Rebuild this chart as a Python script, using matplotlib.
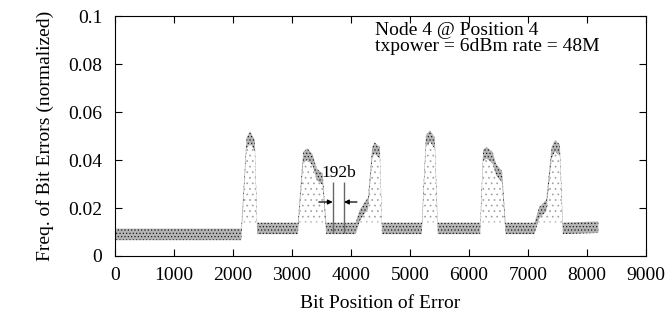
import numpy as np
import matplotlib
matplotlib.use("Agg")
import matplotlib.pyplot as plt

# profile of the error-frequency band
BIT_POS = [0, 2140, 2230, 2290, 2370, 2410, 3100, 3190, 3260, 3350, 3420,
           3520, 3580, 4080, 4150, 4230, 4290, 4360, 4400, 4490, 4525, 5200,
           5270, 5340, 5420, 5470, 6190, 6240, 6300, 6400, 6460, 6560, 6620,
           7110, 7190, 7310, 7400, 7460, 7540, 7590, 8192]
FREQ_MID = [0.009, 0.009, 0.047, 0.0495, 0.046, 0.0115, 0.0115, 0.041,
            0.0425, 0.040, 0.034, 0.032, 0.0115, 0.0115, 0.017, 0.020, 0.022,
            0.043, 0.045, 0.043, 0.0115, 0.0115, 0.048, 0.050, 0.047, 0.0115,
            0.0115, 0.042, 0.043, 0.041, 0.036, 0.033, 0.0115, 0.0115, 0.018,
            0.021, 0.043, 0.046, 0.044, 0.0115, 0.012]
FREQ_SPREAD = 0.0024   # half-width of the dense band
FLOOR = 0.014          # level under the peaks reached by the sparse points

# 192-bit marker
MARK_LEFT, MARK_RIGHT = 3690, 3882
MARK_LO, MARK_HI = 0.0096, 0.0308
ARROW_Y = 0.0225
ARROW_TAIL_L, ARROW_TAIL_R = 3455, 4100

XTICKS = np.arange(0, 9001, 1000)
YTICKS = [0, 0.02, 0.04, 0.06, 0.08, 0.1]
YTICKLABELS = ["0", "0.02", "0.04", "0.06", "0.08", "0.1"]

plt.rcParams["font.family"] = ["Liberation Serif", "DejaVu Serif"]
plt.rcParams["hatch.linewidth"] = 0.5

fig = plt.figure(figsize=(6.7, 3.22), dpi=100)
ax = fig.add_axes([0.1716, 0.205, 0.7926, 0.745])

x = np.array(BIT_POS)
mid = np.array(FREQ_MID)

# sparse points inside the peaks
ax.fill_between(x, FLOOR, mid - FREQ_SPREAD, where=mid > FLOOR + FREQ_SPREAD,
                interpolate=True, facecolor="none", edgecolor="#a0a0a0",
                hatch="...", lw=0)
# dense band
ax.fill_between(x, mid - FREQ_SPREAD, mid + FREQ_SPREAD,
                facecolor="#b4b4b4", edgecolor="#1a1a1a", hatch=".....",
                lw=0)

# 192b annotation
ax.vlines([MARK_LEFT, MARK_RIGHT], MARK_LO, MARK_HI, color="#666666", lw=1.0)
ax.annotate("", xy=(MARK_LEFT, ARROW_Y), xytext=(ARROW_TAIL_L, ARROW_Y),
            arrowprops=dict(arrowstyle="-|>", color="black", lw=0.9,
                            mutation_scale=7, shrinkA=0, shrinkB=0))
ax.annotate("", xy=(MARK_RIGHT, ARROW_Y), xytext=(ARROW_TAIL_R, ARROW_Y),
            arrowprops=dict(arrowstyle="-|>", color="black", lw=0.9,
                            mutation_scale=7, shrinkA=0, shrinkB=0))
ax.text((MARK_LEFT + MARK_RIGHT) / 2, 0.0348, "192b", ha="center",
        va="center", fontsize=12.5)

ax.text(4400, 0.0975, "Node 4 @ Position 4\ntxpower = 6dBm rate = 48M",
        ha="left", va="top", fontsize=14, linespacing=0.95)

ax.set_xlim(0, 9000)
ax.set_ylim(0, 0.1)
ax.set_xticks(XTICKS)
ax.set_yticks(YTICKS)
ax.set_yticklabels(YTICKLABELS)
ax.tick_params(direction="in", length=5, width=0.8, top=True, right=True,
               labelsize=14)
ax.tick_params(axis="x", pad=8)
ax.tick_params(axis="y", pad=9)
for s in ax.spines.values():
    s.set_linewidth(0.8)

ax.set_xlabel("Bit Position of Error", fontsize=14, labelpad=8)
ax.set_ylabel("Freq. of Bit Errors (normalized)", fontsize=14, labelpad=10)

fig.savefig("out.png", dpi=100)
